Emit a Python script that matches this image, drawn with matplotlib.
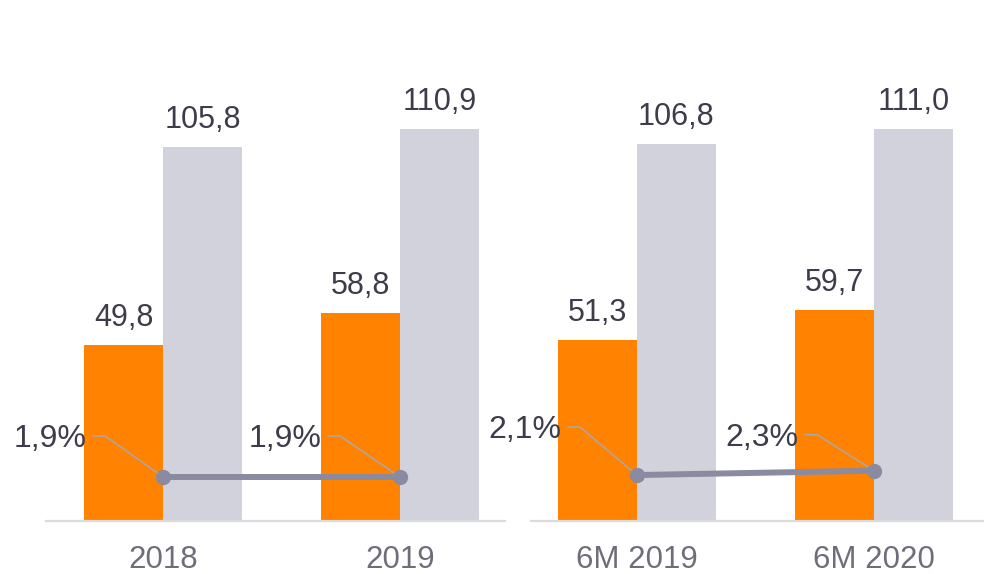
import numpy as np
from matplotlib import pyplot as plt

plt.rcParams['font.family'] = ['Liberation Sans', 'DejaVu Sans']

cats_left = ['2018', '2019']
cats_right = ['6M 2019', '6M 2020']
orange_left = [49.8, 58.8]
grey_left = [105.8, 110.9]
pct_left = [1.9, 1.9]
orange_right = [51.3, 59.7]
grey_right = [106.8, 111.0]
pct_right = [2.1, 2.3]

ORANGE = '#FF8200'
GREY = '#D2D2DC'
LINE = '#8A8AA0'
LEADER = '#A8A8B0'
BASE = '#DADAE0'
DARK = '#3C3C4B'
MID = '#6E6E7A'

W, H = 984, 574
fig = plt.figure(figsize=(W/100, H/100), dpi=100)

def panel(x0, x1, xlim, cats, orange, grey, pct, pct_max, leaders):
  ax = fig.add_axes([x0/W, 53/H, (x1-x0)/W, 501/H])
  x = np.arange(len(cats))
  w = 0.333
  b1 = ax.bar(x - w/2, orange, w, color=ORANGE)
  b2 = ax.bar(x + w/2, grey, w, color=GREY)
  ax.set_xlim(*xlim)
  ax.set_ylim(0, 141.9)
  for bars, vals in ((b1, orange), (b2, grey)):
    for b, v in zip(bars, vals):
      ax.annotate(('%.1f' % v).replace('.', ','), (b.get_x() + b.get_width()/2, v),
                  xytext=(0, 27), textcoords='offset pixels', ha='center', va='center',
                  fontsize=22, color=DARK)
  for s in ax.spines.values():
    s.set_visible(False)
  ax.axhline(0, color=BASE, lw=1.6, clip_on=False)
  ax.set_yticks([])
  ax.set_xticks(x)
  ax.set_xticklabels(cats, fontsize=22.5, color=MID)
  ax.tick_params(axis='x', length=0, pad=17)
  ax.patch.set_alpha(0)

  ax2 = ax.twinx()
  ax2.set_ylim(0, pct_max)
  ax2.set_xlim(*xlim)
  ax2.axis('off')
  ax2.plot(x, pct, color=LINE, lw=4.3, marker='o', ms=10, solid_capstyle='round')
  for xi, p, (dx, dy) in zip(x, pct, leaders):
    px, py = ax2.transData.transform((xi, p))
    pts = np.array([[px, py], [px + dx, py + dy], [px + dx - 12, py + dy]])
    d = ax2.transData.inverted().transform(pts)
    ax2.plot(d[:, 0], d[:, 1], color=LEADER, lw=1.1, clip_on=False, zorder=1)
    tx, ty = ax2.transData.inverted().transform((px + dx - 19, py + dy - 3))
    ax2.text(tx, ty, ('%.1f%%' % p).replace('.', ','), ha='right', va='center',
             fontsize=23, color=DARK)
  return ax

panel(46, 505, (-0.494, 1.443), cats_left, orange_left, grey_left, pct_left, 21.6,
      [(-58, 41), (-60, 41)])
panel(531, 984, (-0.447, 1.464), cats_right, orange_right, grey_right, pct_right, 22.9,
      [(-57, 48), (-57, 36)])

fig.savefig('out.png', dpi=100)
